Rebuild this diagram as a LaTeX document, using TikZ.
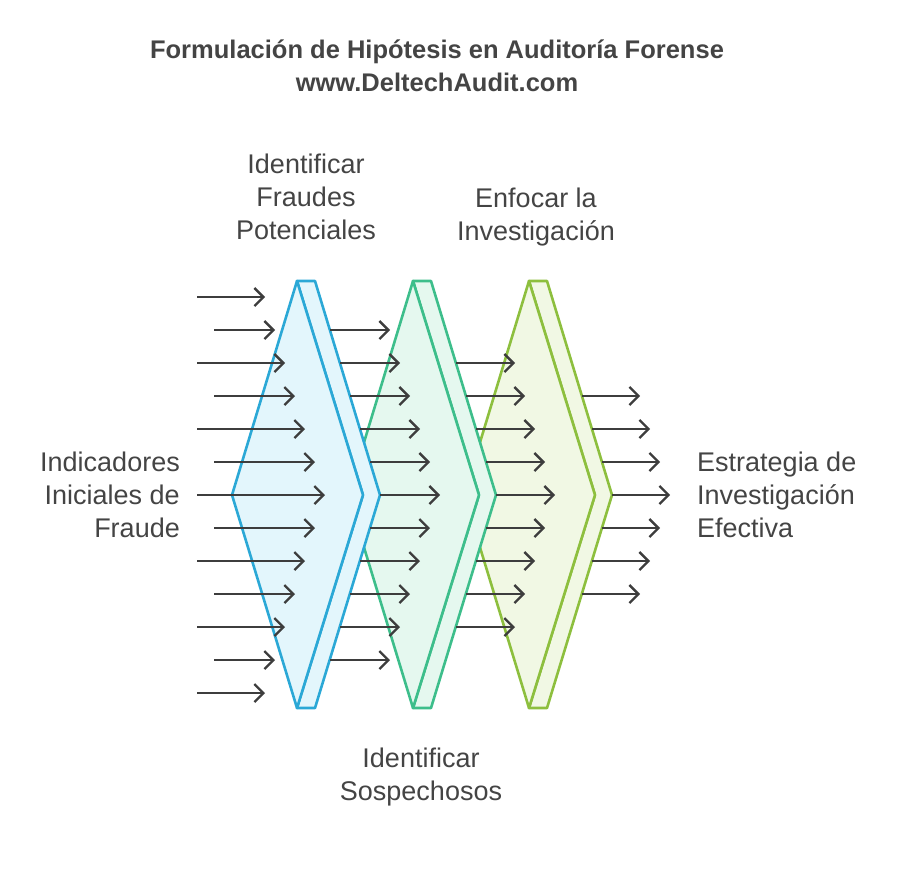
\documentclass[tikz,border=0pt]{standalone}
\usepackage{fontspec}
\setmainfont{Liberation Sans}
\usetikzlibrary{arrows.meta}
\definecolor{blueedge}{HTML}{2BA8D6}
\definecolor{bluefill}{HTML}{E3F6FC}
\definecolor{greenedge}{HTML}{3DBE8B}
\definecolor{greenfill}{HTML}{E5F8EF}
\definecolor{limeedge}{HTML}{8DBF3E}
\definecolor{limefill}{HTML}{F1F8E4}
\definecolor{arrowgray}{HTML}{3D3D3D}
\definecolor{textgray}{HTML}{444444}
\begin{document}
\begin{tikzpicture}[x=1pt, y=-1pt, line join=round,
  lens/.style={line width=2.6pt},
  flow/.style={draw=arrowgray, line width=2.3pt, -{Straight Barb[length=9pt,width=18pt,line width=2.3pt]}},
  label/.style={text=textgray, font=\fontsize{27}{33}\selectfont, inner sep=0pt}]
\useasboundingbox (0,0) rectangle (908,875);
% title
\node[text=textgray, font=\fontsize{25.5}{33}\selectfont\bfseries, align=center] (title) at (437,66) {Formulación de Hipótesis en Auditoría Forense\\www.DeltechAudit.com};
% lenses, back to front
\foreach \t/\c in {529/lime, 413/green, 297/blue} {
  \draw[lens, draw=\c edge, fill=\c fill] (\t,281) -- (\t+18,281) -- (\t+83,495) -- (\t+18,708) -- (\t,708) -- (\t+66,495) -- cycle;
  \draw[lens, draw=\c edge, fill=\c fill] (\t,281) -- (\t-65,495) -- (\t,708) -- (\t+66,495) -- cycle;
}
% incoming arrows
\foreach \k in {0,...,12} {
  \pgfmathsetmacro\d{abs(\k-6)}
  \pgfmathsetmacro\s{isodd(\k) ? 214 : 197}
  \draw[flow] (\s,297+33*\k) -- (325-10*\d,297+33*\k);
}
% arrows between lenses
\foreach \k in {1,...,11} {
  \pgfmathsetmacro\d{abs(\k-6)}
  \draw[flow] (380-10*\d,297+33*\k) -- (440-10*\d,297+33*\k);
}
\foreach \k in {2,...,10} {
  \pgfmathsetmacro\d{abs(\k-6)}
  \draw[flow] (496-10*\d,297+33*\k) -- (555-10*\d,297+33*\k);
}
\foreach \k in {3,...,9} {
  \pgfmathsetmacro\d{abs(\k-6)}
  \draw[flow] (612-10*\d,297+33*\k) -- (670-10*\d,297+33*\k);
}
% labels
\node[label, align=right, anchor=east] (start) at (180,495) {Indicadores\\Iniciales de\\Fraude};
\node[label, align=left, anchor=west] (goal) at (697,495) {Estrategia de\\Investigación\\Efectiva};
\node[label, align=center] (fraud) at (306,197) {Identificar\\Fraudes\\Potenciales};
\node[label, align=center] (focus) at (536,217) {Enfocar la\\Investigación};
\node[label, align=center] (suspect) at (421,777) {Identificar\\Sospechosos};
\end{tikzpicture}
\end{document}
